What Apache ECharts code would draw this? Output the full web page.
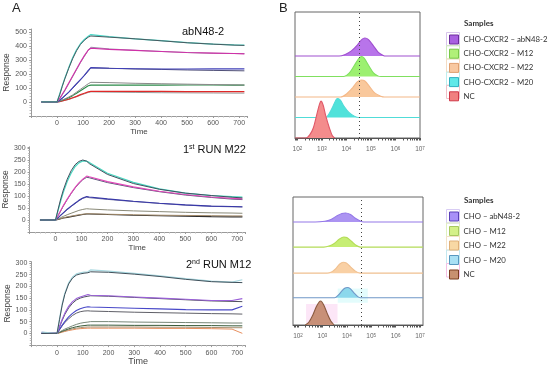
<!DOCTYPE html>
<html><head><meta charset="utf-8">
<script src="https://cdn.jsdelivr.net/npm/echarts@6/dist/echarts.min.js"></script>
<style>html,body{margin:0;padding:0;background:#fff}#c{width:550px;height:367px}</style>
</head><body><div id="c"></div>
<script>
// ---------- Panel A data (time in s, response) ----------
const timeA = [-60, 0, 10, 20, 30, 45, 60, 75, 90, 105, 120, 130, 200, 300, 400, 500, 600, 680, 720];

const abN48 = {
  teal:    [0,0,55,115,170,245,315,372,415,445,468,480,465,450,437,423,412,407,405],
  tealFit: [0,0,50,110,165,240,308,365,410,440,462,470,462,450,436,422,412,405,403],
  mag:     [0,0,25,55,85,135,185,235,285,330,370,383,375,368,360,353,348,345,343],
  magFit:  [0,0,22,50,80,130,180,230,280,325,368,390,378,368,360,352,347,345,345],
  blue:    [0,0,12,28,45,70,100,130,160,190,225,245,240,237,235,235,236,236,236],
  blueFit: [0,0,12,26,42,68,97,127,158,188,220,243,240,235,232,228,225,223,222],
  gray:    [0,0,6,14,22,35,50,70,90,110,130,140,138,133,130,127,124,122,121],
  green:   [0,0,5,12,19,30,45,62,80,98,115,120,120,120,120,121,121,120,120],
  red:     [0,0,3,8,12,20,30,40,52,62,72,75,75,75,75,74,74,74,74],
  redFit:  [0,0,3,7,11,18,27,37,48,58,68,72,70,68,66,65,64,63,63]
};
const run1M22 = {
  teal:    [0,0,40,80,115,160,195,222,238,246,245,240,195,157,130,112,102,97,95],
  tealFit: [0,0,45,88,125,170,205,230,244,250,245,235,190,152,128,112,102,95,92],
  mag:     [0,0,20,40,60,87,112,135,155,170,183,180,160,138,120,106,96,90,88],
  magFit:  [0,0,18,38,58,85,110,133,152,168,178,176,156,135,118,104,94,87,85],
  blue:    [0,0,10,20,30,45,58,70,82,92,98,96,88,78,70,63,58,56,55],
  blueFit: [0,0,9,19,29,43,56,68,80,90,95,93,86,77,69,62,57,55,54],
  gray:    [0,0,5,10,15,22,28,34,40,44,47,46,42,38,35,32,30,29,28],
  olive:   [0,0,3,6,9,13,16,19,22,24,26,26,24,22,20,19,18,17,17],
  dark:    [0,0,2,5,8,11,14,17,20,23,25,25,23,20,18,16,14,13,13]
};
const run2M12 = {
  teal:    [5,0,65,125,170,215,240,253,258,261,262,270,265,255,245,233,222,218,228],
  tealFit: [0,0,60,120,165,210,235,248,253,256,258,262,260,252,242,230,220,217,216],
  mag:     [5,0,30,60,85,115,135,148,155,160,165,162,160,155,150,145,140,140,148],
  magFit:  [0,0,28,55,80,108,128,142,150,155,158,160,158,153,148,143,138,136,135],
  blue:    [0,0,18,35,50,70,85,97,105,110,113,112,110,107,104,101,100,100,115],
  blueFit: [0,0,16,32,46,62,76,86,92,95,96,95,93,90,88,86,84,83,82],
  gray:    [0,0,6,12,18,25,32,38,43,46,48,50,50,48,47,46,45,44,44],
  green:   [0,0,4,9,13,19,24,28,31,33,35,35,35,34,34,33,33,32,32],
  tan:     [0,0,3,7,10,15,19,22,24,26,27,27,27,27,26,26,25,24,24],
  orange:  [0,0,2,5,8,12,15,18,20,21,22,22,22,22,21,21,20,18,0]
};

// ---------- Panel B data: [log10 intensity, relative count] ----------
const topNC     = [[1.9,0],[2.35,0],[2.5,0.15],[2.65,0.5],[2.8,1.2],[2.9,1.65],[2.96,1.8],[3.05,1.6],[3.15,1.1],[3.3,0.5],[3.42,0.12],[3.52,0]];
const topM20    = [[1.9,0],[3.15,0],[3.3,0.2],[3.45,0.55],[3.58,0.88],[3.65,0.93],[3.75,0.85],[3.9,0.55],[4.1,0.25],[4.3,0.08],[4.5,0],[7.0,0]];
const topM22    = [[1.9,0],[3.75,0],[4.0,0.15],[4.25,0.45],[4.45,0.75],[4.6,0.83],[4.75,0.78],[4.95,0.5],[5.15,0.2],[5.4,0.04],[5.55,0],[7.0,0]];
const topM12    = [[1.9,0],[3.9,0],[4.1,0.15],[4.3,0.5],[4.5,0.88],[4.62,0.98],[4.72,0.9],[4.9,0.55],[5.1,0.18],[5.3,0.02],[5.4,0],[7.0,0]];
const topAbN48  = [[1.9,0],[3.7,0],[3.95,0.08],[4.2,0.25],[4.45,0.55],[4.62,0.8],[4.75,0.88],[4.9,0.8],[5.1,0.5],[5.3,0.18],[5.5,0.03],[5.6,0],[7.0,0]];

const botNC     = [[2.3,0],[2.45,0.12],[2.6,0.38],[2.75,0.72],[2.88,0.93],[2.93,0.95],[3.05,0.8],[3.2,0.45],[3.35,0.15],[3.48,0]];
const botM20    = [[1.8,0],[3.5,0],[3.65,0.1],[3.8,0.27],[3.93,0.38],[4.02,0.4],[4.15,0.35],[4.3,0.18],[4.45,0.04],[4.55,0],[7.12,0]];
const botM22    = [[1.8,0],[3.2,0],[3.4,0.06],[3.55,0.18],[3.7,0.35],[3.85,0.43],[3.98,0.4],[4.15,0.25],[4.35,0.08],[4.55,0],[7.12,0]];
const botM12    = [[1.8,0],[3.05,0],[3.3,0.05],[3.5,0.15],[3.7,0.32],[3.88,0.4],[4.0,0.38],[4.2,0.22],[4.4,0.06],[4.55,0],[7.12,0]];
const botAbN48  = [[1.8,0],[2.7,0],[3.1,0.03],[3.35,0.1],[3.6,0.25],[3.8,0.34],[3.95,0.36],[4.15,0.3],[4.35,0.15],[4.55,0.04],[4.7,0],[7.12,0]];

const decadeTicks = [2, 3, 4, 5, 6, 7];
const gateLog = 4.52;
const gateLogBottom = 4.6;
const topNames = ['CHO-CXCR2 – abN48-2','CHO-CXCR2 – M12','CHO-CXCR2 – M22','CHO-CXCR2 – M20','NC'];
const botNames = ['CHO – abN48-2','CHO – M12','CHO – M22','CHO – M20','NC '];

// ---------- build ----------
const chart = echarts.init(document.getElementById('c'));
const FF = 'Liberation Sans, Arial, sans-serif';
const LF = 'Lato, Open Sans, sans-serif';

const gridsA = [
  {left:31, top:29, width:216, height:87},
  {left:29, top:146.8, width:216, height:85.2},
  {left:31.3, top:261.7, width:213.6, height:84.1}
];
const yCfg = [{min:-100,max:520,interval:100},{min:-50,max:305,interval:50},{min:-50,max:305,interval:50}];

const grid = gridsA.map(g => Object.assign({containLabel:false}, g));
grid.push({left:295, top:12, width:125, height:126, show:true, borderColor:'#666', borderWidth:1});
grid.push({left:293, top:197, width:130, height:128, show:true, borderColor:'#666', borderWidth:1});

const xAxis = [], yAxis = [];
const axisGray = '#9a9a9a';
gridsA.forEach((g,i) => {
  xAxis.push({type:'value', gridIndex:i, min:-100, max:730, interval:100,
    axisLine:{onZero:false, lineStyle:{color:axisGray, width:1}},
    axisTick:{length:2, lineStyle:{color:axisGray}},
    minorTick:{show:true, splitNumber:5, length:1.5, lineStyle:{color:'#bbb'}},
    splitLine:{show:false},
    axisLabel:{fontSize:7, color:'#555', margin:4, fontFamily:FF,
      formatter: v => v < 0 ? '' : String(v)},
    name:'Time', nameLocation:'middle', nameGap: i===2 ? 11 : 9,
    nameTextStyle:{fontSize: i===2 ? 9 : 8, color:'#444', fontFamily:FF}
  });
  yAxis.push(Object.assign({type:'value', gridIndex:i,
    axisLine:{show:true, onZero:false, lineStyle:{color:axisGray, width:1}},
    axisTick:{show:true, length:2, lineStyle:{color:axisGray}},
    minorTick:{show:true, splitNumber:5, length:1.5, lineStyle:{color:'#bbb'}},
    splitLine:{show:false},
    axisLabel:{fontSize:7, color:'#555', margin:4, fontFamily:FF,
      formatter: v => v < 0 ? '' : String(v)},
    name:'Response', nameLocation:'middle', nameGap:15,
    nameTextStyle:{fontSize:8.5, color:'#444', fontFamily:FF}
  }, yCfg[i]));
});

// minor log ticks
function logTicks(lo, hi){
  const out = [];
  for (let e = 1; e <= 7; e++) for (let k = 1; k <= 9; k++) {
    const v = e + Math.log10(k);
    if (v >= lo && v <= hi) out.push(v);
  }
  return out;
}
const supRich = {b:{fontSize:6.5, color:'#666', fontFamily:FF}, s:{fontSize:4.5, color:'#666', verticalAlign:'top', lineHeight:6, fontFamily:FF}};
function bX(gi, min, max){
  return {type:'value', gridIndex:gi, min:min, max:max,
    axisLine:{onZero:false, lineStyle:{color:'#555', width:1}},
    axisTick:{show:true, customValues:logTicks(min,max), length:2.5, inside:false, lineStyle:{color:'#555'}},
    splitLine:{show:false},
    axisLabel:{show:true, customValues:decadeTicks, margin:8,
      formatter: v => '{b|10}{s|' + Math.round(v) + '}', rich:supRich}
  };
}
xAxis.push(bX(3, 1.9, 7.0));
xAxis.push(bX(4, 1.795, 7.123));
yAxis.push({type:'value', gridIndex:3, min:0, max:6.15, show:false});
yAxis.push({type:'value', gridIndex:4, min:0, max:5.06, show:false});

const series = [];
function lineA(gi, arr, color, w){
  series.push({type:'line', xAxisIndex:gi, yAxisIndex:gi, showSymbol:false, silent:true,
    data: timeA.map((t,k)=>[t, arr[k]]), lineStyle:{color:color, width:w||1}, itemStyle:{color:color}});
}
// plot 1
lineA(0, abN48.redFit, '#9a9a9a'); lineA(0, abN48.red, '#e02828', 1.2);
lineA(0, abN48.green, '#2a8a48', 1.1); lineA(0, abN48.gray, '#8a8a8a');
lineA(0, abN48.blueFit, '#505078'); lineA(0, abN48.blue, '#4040b8', 1.1);
lineA(0, abN48.magFit, '#9a8aa8'); lineA(0, abN48.mag, '#d030a8', 1.1);
lineA(0, abN48.teal, '#48d8c8', 1.2); lineA(0, abN48.tealFit, '#4a5a60');
// plot 2
lineA(1, run1M22.dark, '#2a2a2a', 1.1); lineA(1, run1M22.olive, '#a08868');
lineA(1, run1M22.gray, '#8a8a78'); lineA(1, run1M22.blueFit, '#7070a0');
lineA(1, run1M22.blue, '#3838a8', 1.1); lineA(1, run1M22.magFit, '#585878');
lineA(1, run1M22.mag, '#e048b8', 1.1); lineA(1, run1M22.teal, '#48d8c0', 1.2);
lineA(1, run1M22.tealFit, '#405060');
// plot 3
lineA(2, run2M12.orange, '#e89060'); lineA(2, run2M12.tan, '#a89070');
lineA(2, run2M12.green, '#385a38'); lineA(2, run2M12.gray, '#788878');
lineA(2, run2M12.blueFit, '#606068'); lineA(2, run2M12.blue, '#4848c8', 1.1);
lineA(2, run2M12.magFit, '#505060'); lineA(2, run2M12.mag, '#9a60d8', 1.1);
lineA(2, run2M12.teal, '#a8d8e0', 1.2); lineA(2, run2M12.tealFit, '#40505a');

function ridge(gi, name, pts, off, line, fill, z){
  series.push({type:'line', name:name, xAxisIndex:gi, yAxisIndex:gi, showSymbol:false, silent:true,
    smooth:0.3, z:z||2,
    data: pts.map(p => [p[0], off + p[1]]),
    lineStyle:{color:line, width:1.1}, itemStyle:{color:fill},
    areaStyle:{color:fill, opacity:1, origin:off}});
}
// top B
const offTop = [0,1,2,3,4];
ridge(3, topNames[0], topAbN48, offTop[4], '#a050d0', '#b874ea');
ridge(3, topNames[1], topM12, offTop[3], '#80e060', '#9cf070');
ridge(3, topNames[2], topM22, offTop[2], '#f4b888', '#f9c89c');
ridge(3, topNames[3], topM20, offTop[1], '#50dcd8', '#50e2da');
ridge(3, topNames[4], topNC, offTop[0], '#e05868', '#f48c8c', 3);
series[series.length-1].markLine = {symbol:'none', silent:true, label:{show:false},
  lineStyle:{color:'#444', type:[1,3], width:1}, data:[{xAxis:gateLog}]};
// bottom B
const offBot = [0,1.08,2.05,3.08,4.07];
ridge(4, botNames[0], botAbN48, offBot[4], '#9478e8', '#ac94f2');
ridge(4, botNames[1], botM12, offBot[3], '#b4dc58', '#c6ee74');
ridge(4, botNames[2], botM22, offBot[2], '#f0c090', '#f9d0a4');
ridge(4, botNames[3], botM20, offBot[1], '#7098c8', '#8cd8ec');
ridge(4, botNames[4], botNC, offBot[0], '#8a5a40', '#c89078', 3);
series[series.length-1].markLine = {symbol:'none', silent:true, label:{show:false},
  lineStyle:{color:'#444', type:[1,3], width:1}, data:[{xAxis:gateLogBottom}]};
series[series.length-1].markArea = {silent:true, itemStyle:{color:'rgba(250,210,240,0.55)'},
  data:[[{coord:[2.33,0.08]},{coord:[3.62,0.83]}]]};
series[series.length-2].markArea = {silent:true, itemStyle:{color:'rgba(200,250,250,0.5)'},
  data:[[{coord:[3.63,offBot[1]-0.2]},{coord:[4.86,offBot[1]+0.36]}]]};

const topIcon = [['#a860e0','#6c2c9c'],['#b0f078','#78c848'],['#f8c8a0','#e0a070'],['#60e8e8','#30b0c0'],['#f08080','#d03848']];
const botIcon = [['#a890f8','#5a40b8'],['#d4f088','#a8c860'],['#f8d8a4','#e0b078'],['#a8e0f4','#5898c0'],['#c89070','#7a3c20']];
const legendText = {fontSize:7.8, color:'#333', fontFamily:LF, lineHeight:9};
const legend = [
  {orient:'vertical', left:449, top:34.5, padding:0, itemWidth:9, itemHeight:9, itemGap:4.2, icon:'rect',
   selectedMode:false, textStyle:legendText, itemTextGap:6,
   data: topNames.map((n,i)=>({name:n, itemStyle:{color:topIcon[i][0], borderColor:topIcon[i][1], borderWidth:1}}))},
  {orient:'vertical', left:449, top:211.5, padding:0, itemWidth:9, itemHeight:9, itemGap:4.5, icon:'rect',
   selectedMode:false, textStyle:legendText, itemTextGap:6,
   data: botNames.map((n,i)=>({name:n, itemStyle:{color:botIcon[i][0], borderColor:botIcon[i][1], borderWidth:1}}))}
];

const frameTop = ['#d8c4ec','#cfeebc','#f4dcc4','#bfeeee','#f0c0c8'];
const frameBot = ['#d8ccf4','#e0f0c0','#f4e2c8','#c4e8f0','#f4c0e4'];
const graphic = [];
frameTop.forEach((c,i)=>graphic.push({type:'rect', shape:{x:446.5, y:32.5+i*13.2, width:13, height:13.2}, style:{fill:'none', stroke:c, lineWidth:1}, silent:true}));
frameBot.forEach((c,i)=>graphic.push({type:'rect', shape:{x:446.5, y:209.5+i*13.5, width:13, height:13.5}, style:{fill:'none', stroke:c, lineWidth:1}, silent:true}));

const nrm = {color:'#111', fontFamily:FF, fontWeight:'normal'};
const titleStyle = {fontSize:11, fontWeight:'normal', color:'#111', fontFamily:FF};
const richT = {n:Object.assign({fontSize:11}, nrm), s:Object.assign({fontSize:7, verticalAlign:'top', lineHeight:8}, nrm)};
const title = [
  {text:'A', left:12, top:2, padding:0, textStyle:{fontSize:13, fontWeight:'normal', color:'#222', fontFamily:FF}},
  {text:'B', left:279, top:2, padding:0, textStyle:{fontSize:13, fontWeight:'normal', color:'#222', fontFamily:FF}},
  {text:'abN48-2', left:182, top:26, padding:0, textStyle:titleStyle},
  {text:'{n|1}{s|st}{n| RUN M22}', left:183, top:144, padding:0, textStyle:{fontSize:11, fontWeight:'normal', fontFamily:FF, rich:richT}},
  {text:'{n|2}{s|nd}{n| RUN M12}', left:186, top:259, padding:0, textStyle:{fontSize:11, fontWeight:'normal', fontFamily:FF, rich:richT}},
  {text:'Samples', left:464, top:19, padding:0, textStyle:{fontSize:8, fontWeight:'bold', color:'#333', fontFamily:LF}},
  {text:'Samples', left:464, top:196, padding:0, textStyle:{fontSize:8, fontWeight:'bold', color:'#333', fontFamily:LF}}
];

chart.setOption({animation:false, backgroundColor:'#fff', title, grid, xAxis, yAxis, series, legend, graphic});
</script></body></html>
